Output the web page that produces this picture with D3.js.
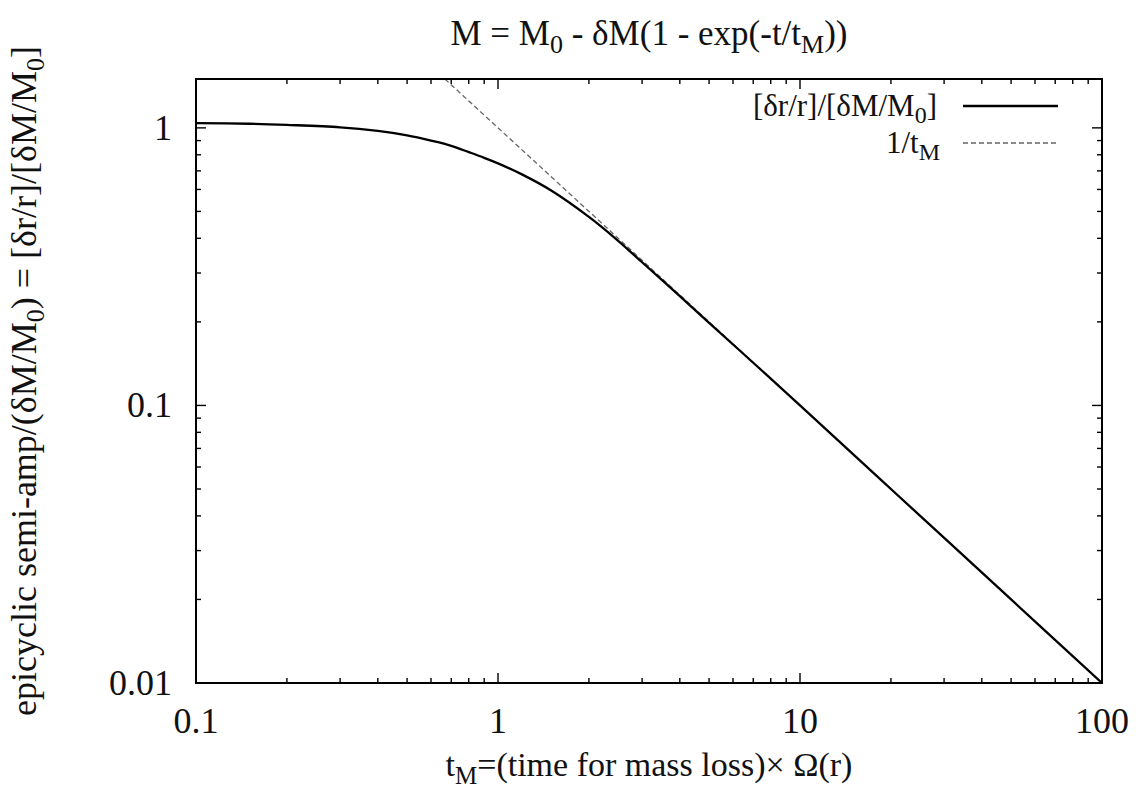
<!DOCTYPE html>
<html>
<head>
<script src="https://d3js.org/d3.v7.min.js"></script>
<style>
  body { margin: 0; background: #fff; }
  text { font-family: "Liberation Serif", "DejaVu Serif", serif; fill: #111; }
</style>
</head>
<body>
<script>
// values
var tM = [0.1, 0.15, 0.2, 0.3, 0.4, 0.5, 0.6, 0.7, 0.8, 0.9, 1.0, 1.2, 1.5, 2.0, 2.5, 3, 4, 5, 7, 10, 20, 50, 100];
var amp = [1.04, 1.035, 1.025, 1.005, 0.975, 0.94, 0.90, 0.862, 0.818, 0.78, 0.745, 0.68, 0.595, 0.478, 0.392, 0.328, 0.2475, 0.1985, 0.1425, 0.1, 0.05, 0.02, 0.01];
var asymT = [0.667, 100];
var asymV = [1.5, 0.01];
var xTicks = [0.1, 1, 10, 100];
var xTickLabels = ["0.1", "1", "10", "100"];
var yTicks = [0.01, 0.1, 1];
var yTickLabels = ["0.01", "0.1", "1"];

var W = 1143, H = 792;
var pL = 196, pR = 1102, pT = 79, pB = 683;

var svg = d3.select("body").append("svg")
    .attr("width", W).attr("height", H);

var x = d3.scaleLog().domain([0.1, 100]).range([pL, pR]);
var y = d3.scaleLog().domain([0.01, 1.5]).range([pB, pT]);

// minor ticks
var xMinor = [], yMinor = [];
[0.1, 1, 10].forEach(function(d) {
  for (var k = 2; k <= 9; k++) xMinor.push(d * k);
});
[0.01, 0.1, 1].forEach(function(d) {
  for (var k = 2; k <= 9; k++) if (d * k <= 1.5) yMinor.push(d * k);
});

var ticks = svg.append("g").attr("stroke", "#000").attr("stroke-width", 1.4);
function tick(x1, y1, x2, y2) {
  ticks.append("line").attr("x1", x1).attr("y1", y1).attr("x2", x2).attr("y2", y2);
}
xTicks.forEach(function(d) {
  tick(x(d), pB, x(d), pB - 10);
  tick(x(d), pT, x(d), pT + 10);
});
xMinor.forEach(function(d) {
  tick(x(d), pB, x(d), pB - 5);
  tick(x(d), pT, x(d), pT + 5);
});
yTicks.forEach(function(d) {
  tick(pL, y(d), pL + 10, y(d));
  tick(pR, y(d), pR - 10, y(d));
});
yMinor.forEach(function(d) {
  tick(pL, y(d), pL + 5, y(d));
  tick(pR, y(d), pR - 5, y(d));
});

// tick labels
svg.selectAll(".xl").data(xTicks).enter().append("text")
  .attr("x", function(d) { return x(d); })
  .attr("y", 733)
  .attr("text-anchor", "middle")
  .attr("font-size", 36)
  .text(function(d, i) { return xTickLabels[i]; });

svg.selectAll(".yl").data(yTicks).enter().append("text")
  .attr("x", 172)
  .attr("y", function(d) { return y(d) + 12; })
  .attr("text-anchor", "end")
  .attr("font-size", 36)
  .text(function(d, i) { return yTickLabels[i]; });

// curves
svg.append("clipPath").attr("id", "clip")
  .append("rect").attr("x", pL).attr("y", pT)
  .attr("width", pR - pL).attr("height", pB - pT);

var line = d3.line()
  .x(function(d) { return x(d[0]); })
  .y(function(d) { return y(d[1]); })
  .curve(d3.curveCatmullRom.alpha(0.5));

svg.append("path")
  .datum(d3.zip(asymT, asymV))
  .attr("d", line)
  .attr("fill", "none")
  .attr("stroke", "#666")
  .attr("stroke-width", 1.3)
  .attr("stroke-dasharray", "5,3")
  .attr("clip-path", "url(#clip)");

svg.append("path")
  .datum(d3.zip(tM, amp))
  .attr("d", line)
  .attr("fill", "none")
  .attr("stroke", "#000")
  .attr("stroke-width", 2.3)
  .attr("clip-path", "url(#clip)");

// frame
svg.append("rect")
  .attr("x", pL).attr("y", pT)
  .attr("width", pR - pL).attr("height", pB - pT)
  .attr("fill", "none").attr("stroke", "#000").attr("stroke-width", 2);

// legend
var lg = svg.append("g");
var t1 = lg.append("text").attr("x", 937).attr("y", 116)
  .attr("text-anchor", "end").attr("font-size", 31);
t1.append("tspan").text("[δr/r]/[δM/M");
t1.append("tspan").attr("font-size", 24).attr("dy", 7).text("0");
t1.append("tspan").attr("dy", -7).text("]");
lg.append("line").attr("x1", 963).attr("x2", 1058).attr("y1", 106).attr("y2", 106)
  .attr("stroke", "#000").attr("stroke-width", 2.3);

var t2 = lg.append("text").attr("x", 940).attr("y", 153)
  .attr("text-anchor", "end").attr("font-size", 31);
t2.append("tspan").text("1/t");
t2.append("tspan").attr("font-size", 24).attr("dy", 7).text("M");
lg.append("line").attr("x1", 963).attr("x2", 1058).attr("y1", 143).attr("y2", 143)
  .attr("stroke", "#666").attr("stroke-width", 1.3).attr("stroke-dasharray", "5,3");

// title
var tt = svg.append("text").attr("x", (pL + pR) / 2).attr("y", 45)
  .attr("text-anchor", "middle").attr("font-size", 35);
tt.append("tspan").text("M = M");
tt.append("tspan").attr("font-size", 26).attr("dy", 8).text("0");
tt.append("tspan").attr("dy", -8).text(" - δM(1 - exp(-t/t");
tt.append("tspan").attr("font-size", 26).attr("dy", 8).text("M");
tt.append("tspan").attr("dy", -8).text("))");

// x label
var xl = svg.append("text").attr("x", (pL + pR) / 2).attr("y", 776)
  .attr("text-anchor", "middle").attr("font-size", 34);
xl.append("tspan").text("t");
xl.append("tspan").attr("font-size", 25).attr("dy", 8).text("M");
xl.append("tspan").attr("dy", -8).text("=(time for mass loss)× Ω(r)");

// y label
var yl = svg.append("text")
  .attr("transform", "translate(36," + ((pT + pB) / 2) + ") rotate(-90)")
  .attr("text-anchor", "middle").attr("font-size", 36);
yl.append("tspan").text("epicyclic semi-amp/(δM/M");
yl.append("tspan").attr("font-size", 26).attr("dy", 8).text("0");
yl.append("tspan").attr("dy", -8).text(") = [δr/r]/[δM/M");
yl.append("tspan").attr("font-size", 26).attr("dy", 8).text("0");
yl.append("tspan").attr("dy", -8).text("]");
</script>
</body>
</html>
